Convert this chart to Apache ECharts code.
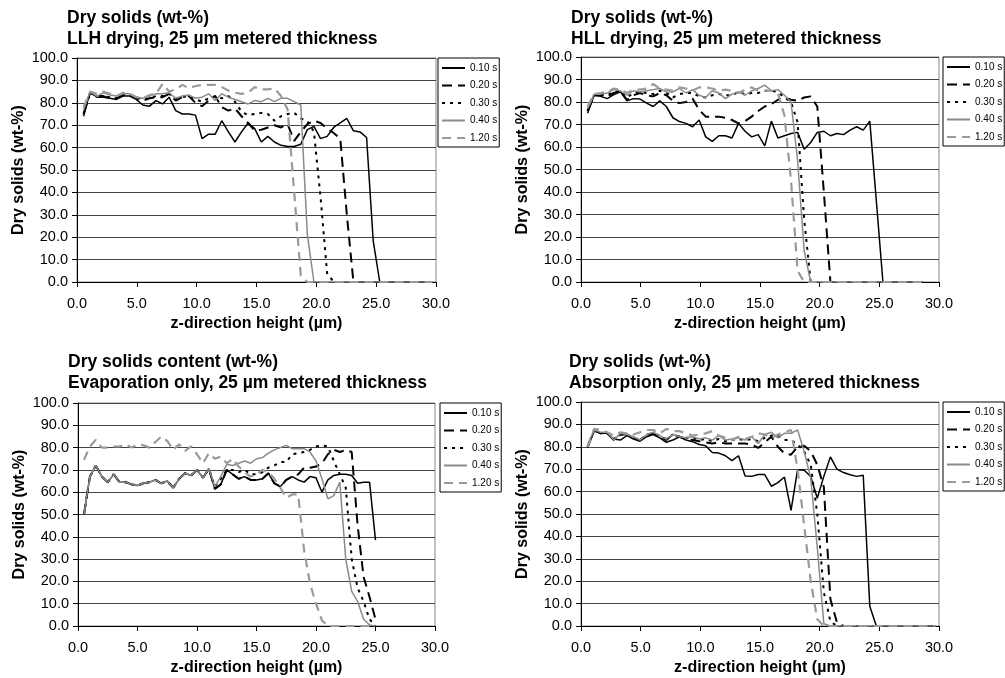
<!DOCTYPE html>
<html><head><meta charset="utf-8">
<script src="https://cdn.jsdelivr.net/npm/echarts@6.0.0/dist/echarts.min.js"></script>
<style>html,body{margin:0;padding:0;background:#fff}#c{width:1005px;height:678px}</style>
</head><body><div id="c"></div>
<script>
// x grids (µm)
const X55 = [0.55,1.1,1.65,2.2,2.75,3.3,3.85,4.4,4.95,5.5,6.05,6.6,7.15,7.7,8.25,8.8,9.35,9.9,10.45,11,11.55,12.1,12.65,13.2,13.75,14.3,14.85,15.4,15.95,16.5,17.05,17.6,18.15,18.7,19.25,19.8,20.35,20.9,21.45,22,22.55,23.1,23.65,24.2,24.75,25.3,25.85,26.4,26.95,27.5,28.05,28.6,29.15,29.7];
const X50 = [0.5,1,1.5,2,2.5,3,3.5,4,4.5,5,5.5,6,6.5,7,7.5,8,8.5,9,9.5,10,10.5,11,11.5,12,12.5,13,13.5,14,14.5,15,15.5,16,16.5,17,17.5,18,18.5,19,19.5,20,20.5,21,21.5,22,22.5,23,23.5,24,24.5,25];
const NAMES = ['0.10 s','0.20 s','0.30 s','0.40 s','1.20 s'];

// Panel 1: LLH drying
const llh010 = [74,85,82.5,82.5,82,81.5,83,83,81.5,79, 78.5,81,79.5,82.5,76.5,75,75,74.5,64,66, 66,72,67,62.5,67,71,68.5,62.5,65,62.5, 61,60.5,60.5,61.5,68,69.5,64,65,69,71, 73,67.5,67,64.5,18.5,0,0,0,0,0, 0,0,0,0];
const llh020 = [75,84.5,83,83,82,82,83.5,83.5,82,81, 82,82.5,82.5,84,81,82.5,83,80,78.5,81, 83,78,76.5,77.5,74,71,67.5,68,69,70, 69,70.5,63,67,70.5,72,71,68.5,66.5,64, 30,0,0,0,0,0,0,0,0,0, 0,0,0,0];
const llh030 = [75,84.5,83,83,82.5,82,83.5,83.5,82.5,81.5, 82,83,83,84,82,82.5,83,81.5,80.5,82, 83,82,83,80.5,76,74.5,75,75.5,75,72, 74,75,75.5,73,72,67,38,4,0,0, 0,0,0,0,0,0,0,0,0,0, 0,0,0,0];
const llh040 = [77,85,83,84.5,83.5,83,84,84,82.5,82, 83,84,84,84.5,82,83,83.5,82,82.5,84, 81,84,82.5,81.5,80.5,79.5,81,80.5,82,80.5, 82,82,80.5,79,21,0,0,0,0,0, 0,0,0,0,0,0,0,0,0,0, 0,0,0,0];
const llh120 = [78,85,84,85,84,83,84.5,84,82.5,82, 83.5,84,88.5,85,86,88,86.5,87.5,88,88, 88,87,85.5,84.5,84,84.5,87,86,86,86.5, 83,77,40,3,0,0,0,0,0,0, 0,0,0,0,0,0,0,0,0,0, 0,0,0,0];

// Panel 2: HLL drying
const hll010 = [75,83,82.5,81.5,83.3,84.5,80.5,81.5,81.3,79.5, 78,80.5,78,73,71.3,70.5,69,72,64.5,62.5, 65,65,64,70.5,67,64.5,65.5,60.5,71.5,64, 65,66,66.5,59,62,66.5,67,65,66,65.5, 67.5,69,67.5,71.5,36,0,0,0,0,0, 0,0];
const hll020 = [76,83,83,82.5,84,85,81,83,84,83, 82.5,84,83,80.5,79.5,80,81.5,76.5,73.5,73.5, 73.5,73,72,70.5,71.5,73.5,76,78,79,81, 82,81,80.5,82,82.5,78,40,0,0,0, 0,0,0,0,0,0,0,0,0,0, 0,0];
const hll030 = [76,83,83.5,83,84.5,85,82,84,84.5,84, 83.5,85,84,82,83.5,84,84,82.5,82,83, 83.5,83,83,84.5,83.5,84,84,85,85,84.5, 82,80,71,28,0,0,0,0,0,0, 0,0,0,0,0,0,0,0,0,0, 0,0];
const hll040 = [77,83.5,83.5,84,85.5,85,83,85,84.5,85, 85.5,86,84.5,84.5,86,84,85.5,83,82,85, 84,81.5,83.5,84.5,83,85,86,87.5,85,85.5, 83,80,54,14,0,0,0,0,0,0, 0,0,0,0,0,0,0,0,0,0, 0,0];
const hll120 = [78,83.5,84,84.5,86,85.5,84,85.5,85.5,86, 88,86,85.5,85,86.5,86,85,86.5,86.5,86, 85,85.5,85,84,85.5,86.5,85,85,85,84, 74,45,5,0,0,0,0,0,0,0, 0,0,0,0,0,0,0,0,0,0, 0,0];

// Panel 3: Evaporation only
const ev010 = [50,67,72,67,64.5,68,64.5,64.5,63.5,63, 64,64.5,65.5,64,65,62,66,68.5,67.5,70, 66.5,70.5,61.5,63.5,70,68,66,67,65.5,65.5, 66,68.5,64,62.5,65.5,67,65.5,64.5,67,66.5, 60,65.5,67.5,68,68,67.5,64,64.5,64.5,38.5];
const ev020 = [50,67,72,67,64.5,68,64.5,64.5,63.5,63, 64,64.5,65.5,64,65,62,66,68.5,67.5,70, 66.5,70.5,61.5,63.5,70,68,66,67,65.5,65.5, 66,68.5,64,62.5,65.5,67,68,71,71,71.5, 73,77,79,78,79,78,45,22,13,3];
const ev030 = [50,67,72,67,64.5,68,64.5,64.5,63.5,63, 64,64.5,65.5,64,65,62,66,68.5,67.5,70, 66.5,70.5,62.5,66,70,70,69,70,68,68, 69,71,72,73.5,73.5,77,77.5,78,79,80.5, 81,80.5,74,68,62,30,17,11,3,0];
const ev040 = [50,67,72,67,64.5,68,64.5,64.5,63.5,63, 64,64.5,65.5,64,65,62,66,68.5,67.5,70, 66.5,70.5,62.5,67,72.5,72,73,74,73,75, 75.5,77.5,79,80,81,79.5,79.5,79.5,78,74, 66,57,58.5,64.5,30,15.5,11,3,0.5,0];
const ev120 = [74.5,80.5,83.5,80,80,80.5,80.5,81.5,80,81.5, 81,80,82.5,85,83,79,81.5,78.5,80.5,77, 73,77.5,75,76,73,75,71.5,69,67,68, 70,69,66,62,57.5,59,59,34,19,10, 2.5,0,0,0,0,0,0,0,0,0];

// Panel 4: Absorption only
const ab010 = [79.5,87,86,86,83.5,83,85,83.5,82.5,84.5, 85.5,84,82,83,84.5,83,82.3,81,80.5,77.5, 77.2,76,73.8,76,67,66.8,67.6,67.6,62.4,64, 66.5,51.6,69.8,69.5,66.8,57,66.8,75.5,70,68.5, 67.5,66.8,67.3,8.8,0,0,0,0,0,0, 0,0,0,0];
const ab020 = [80,87.5,86,86,83,85.5,85.5,84,83,85.5, 86,84.5,83,85.5,84.5,83.5,83,82.5,82,81.5, 82,81.5,81.5,81.5,81.5,81,79.5,82,84.5,80, 77,76.5,80,80.5,78,72,62,12,1.5,0, 0,0,0,0,0,0,0,0,0,0, 0,0,0,0];
const ab030 = [80,87.5,86,86,83.5,85.5,85.5,84,83,85.5, 86,85,83.5,85.5,84.5,84,84,83,83.5,82.5, 83.5,82.5,83,83.5,83,83.5,82.5,84,85,85, 83,83,81,78,72,50,15,2,0,0, 0,0,0,0,0,0,0,0,0,0, 0,0,0,0];
const ab040 = [81,87.5,86.5,86.5,83,86,85.5,84.5,83,85.5, 86.5,85,83.5,85.5,84.5,84,84.5,83.5,84,83, 85,83,83.5,84,83,84.5,81.5,85.5,86.5,84, 86,86,87.5,78,66,35,1,0,0,0, 0,0,0,0,0,0,0,0,0,0, 0,0,0,0];
const ab120 = [80,88,87.5,86.5,85,86.5,86,85.5,86.5,87.5, 87.5,86,88,87,87,86,85,85.5,86,87, 85,84,83,84.5,83.5,84.5,86,85.5,84,85.5, 86.5,87.5,70,45,20,3,0,0,0,0, 0,0,0,0,0,0,0,0,0,0, 0,0,0,0];

const FONT = 'Liberation Sans, Arial, Helvetica, sans-serif';
const STYLES = [
  {color:'#000000', width:1.5, type:'solid'},
  {color:'#000000', width:2, type:[10,6]},
  {color:'#000000', width:2, type:[3,5]},
  {color:'#8a8a8a', width:1.5, type:'solid'},
  {color:'#9a9a9a', width:2.2, type:[9,6]}
];

const panels = [
  {title:'Dry solids (wt-%)\nLLH drying, 25 µm metered thickness', tl:67, tt:8,
   grid:{left:77, top:58, width:359, height:224}, lg:{left:438, top:58}, xs:X55,
   vals:[llh010,llh020,llh030,llh040,llh120]},
  {title:'Dry solids (wt-%)\nHLL drying, 25 µm metered thickness', tl:571, tt:8,
   grid:{left:581, top:57, width:358, height:225}, lg:{left:943, top:57}, xs:X55,
   vals:[hll010,hll020,hll030,hll040,hll120]},
  {title:'Dry solids content (wt-%)\nEvaporation only, 25 µm metered thickness', tl:68, tt:352,
   grid:{left:78, top:403, width:357, height:223}, lg:{left:440, top:403}, xs:X50,
   vals:[ev010,ev020,ev030,ev040,ev120]},
  {title:'Dry solids (wt-%)\nAbsorption only, 25 µm metered thickness', tl:569, tt:352,
   grid:{left:581, top:402, width:358, height:224}, lg:{left:943, top:402}, xs:X55,
   vals:[ab010,ab020,ab030,ab040,ab120]}
];

const option = {
  animation:false,
  textStyle:{fontFamily:FONT, color:'#000'},
  title:[], grid:[], xAxis:[], yAxis:[], legend:[], series:[]
};

panels.forEach((p, i) => {
  option.title.push({text:p.title, left:p.tl, top:p.tt, padding:0,
    textStyle:{fontFamily:FONT, fontSize:17.5, fontWeight:'bold', lineHeight:21, color:'#000'}});
  option.grid.push(Object.assign({show:true, borderColor:'#888', borderWidth:1, backgroundColor:'transparent'}, p.grid));
  option.xAxis.push({gridIndex:i, type:'value', min:0, max:30, interval:5,
    axisLine:{show:true, onZero:false, lineStyle:{color:'#000', width:1}},
    axisTick:{show:true, length:5, lineStyle:{color:'#000'}},
    axisLabel:{formatter:v=>v.toFixed(1), fontSize:14.5, color:'#000', margin:14, fontFamily:FONT},
    splitLine:{show:false},
    name:'z-direction height (µm)', nameLocation:'middle', nameGap:34,
    nameTextStyle:{fontSize:16, fontWeight:'bold', color:'#000', fontFamily:FONT}});
  option.yAxis.push({gridIndex:i, type:'value', min:0, max:100, interval:10,
    axisLine:{show:true, onZero:false, lineStyle:{color:'#000', width:1}},
    axisTick:{show:true, length:5, lineStyle:{color:'#000'}},
    axisLabel:{formatter:v=>v.toFixed(1), fontSize:14.5, color:'#000', margin:9, fontFamily:FONT},
    splitLine:{show:true, lineStyle:{color:'#444', width:1}},
    name:'Dry solids (wt-%)', nameLocation:'middle', nameGap:50, nameRotate:90,
    nameTextStyle:{fontSize:16, fontWeight:'bold', color:'#000', fontFamily:FONT}});
  option.legend.push({data:NAMES, orient:'vertical', left:p.lg.left, top:p.lg.top,
    itemWidth:23, itemHeight:10, itemGap:7.5, padding:[5,2,4,3],
    borderColor:'#000', borderWidth:1, backgroundColor:'#fff',
    itemStyle:{opacity:0},
    textStyle:{fontSize:10, color:'#000', fontFamily:FONT}, selectedMode:false});
  p.vals.forEach((vals, j) => {
    const s = STYLES[j];
    option.series.push({name:NAMES[j], type:'line', xAxisIndex:i, yAxisIndex:i,
      symbol:'none', showSymbol:false, color:s.color,
      lineStyle:{color:s.color, width:s.width, type:s.type},
      data: vals.map((v, k) => [p.xs[k], v])});
  });
});

const chart = echarts.init(document.getElementById('c'), null, {renderer:'canvas'});
chart.setOption(option);
</script>
</body></html>
